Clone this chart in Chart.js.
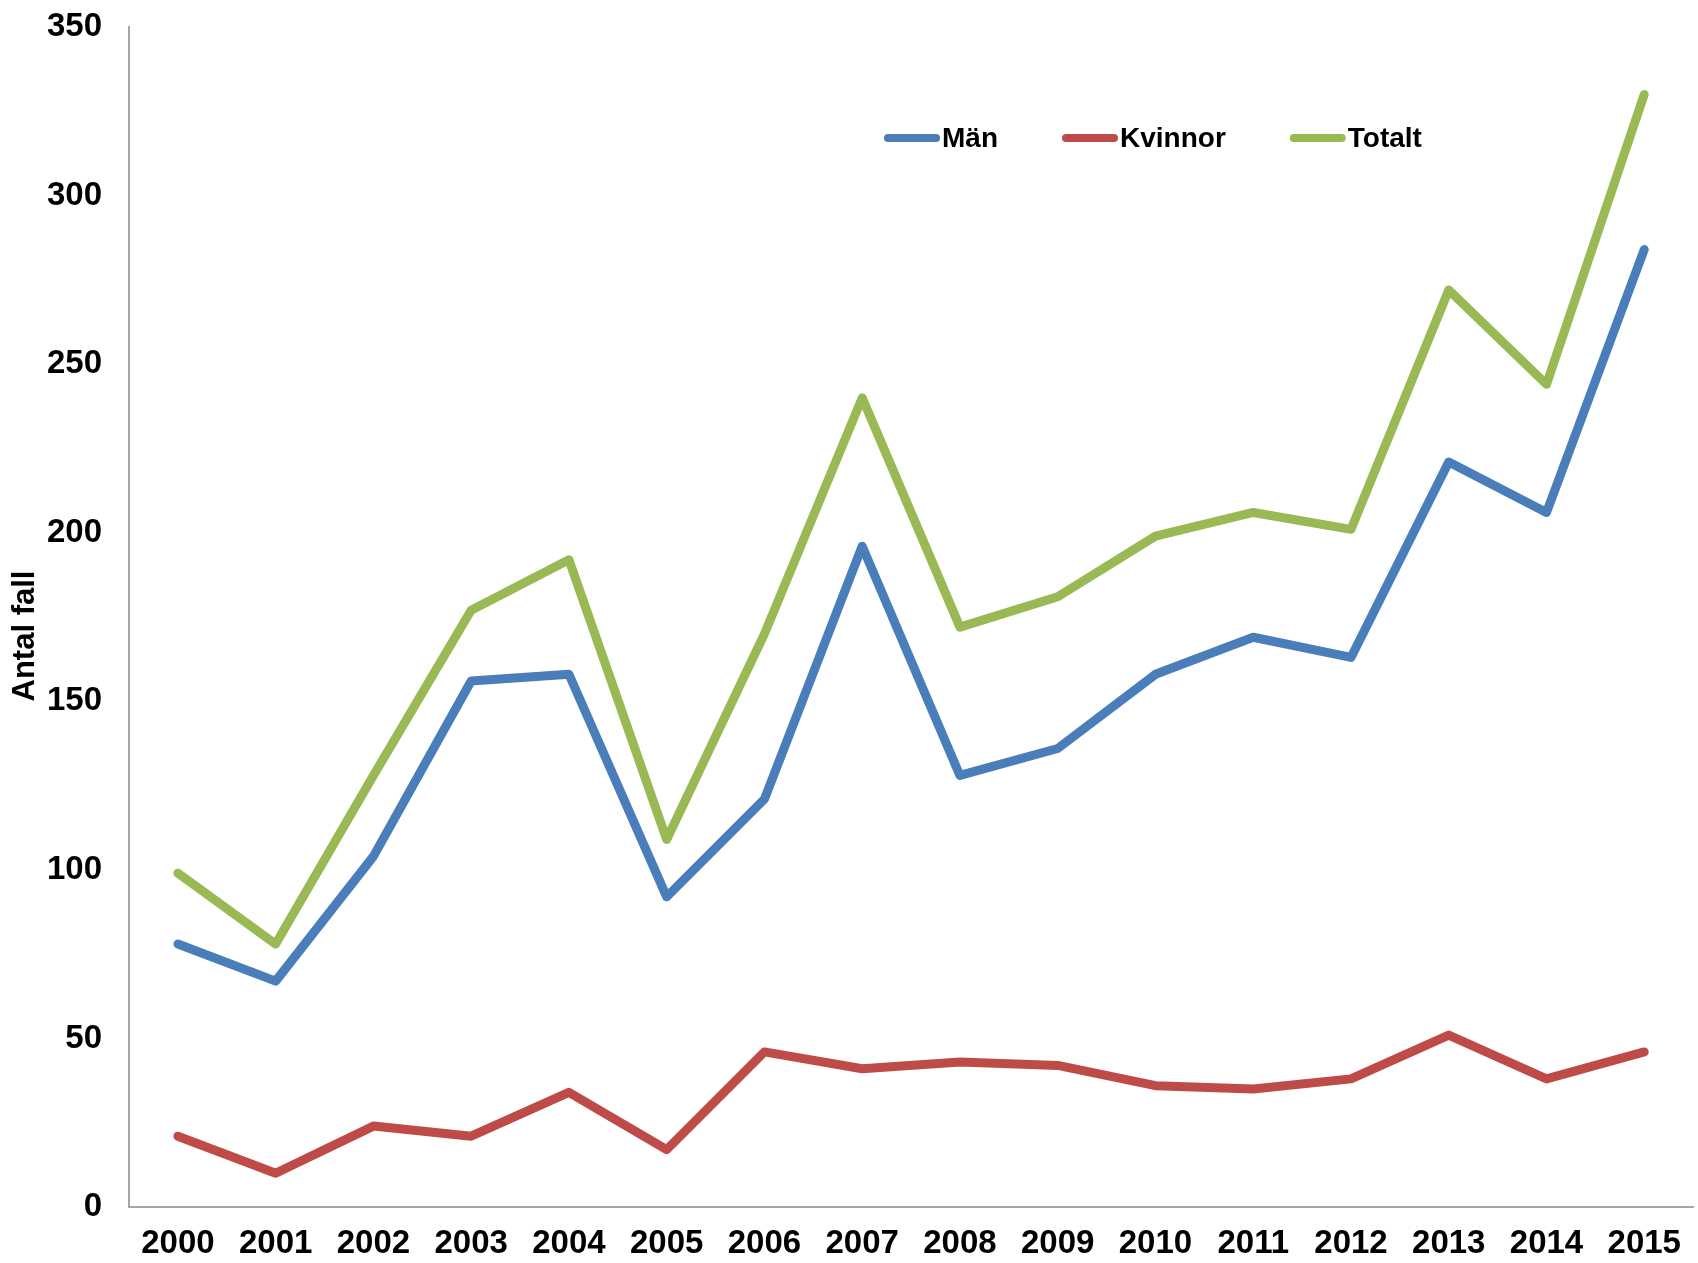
<!DOCTYPE html>
<html>
<head>
<meta charset="utf-8">
<script src="https://cdn.jsdelivr.net/npm/chart.js@4/dist/chart.umd.min.js"></script>
<style>
  html, body { margin: 0; padding: 0; background: #fff; }
  canvas { display: block; }
</style>
</head>
<body>
<canvas id="chart" width="1698" height="1263"></canvas>
<script>
const years = ["2000", "2001", "2002", "2003", "2004", "2005", "2006", "2007",
               "2008", "2009", "2010", "2011", "2012", "2013", "2014", "2015"];
const man     = [78, 67, 104, 156, 158, 92, 121, 196, 128, 136, 158, 169, 163, 221, 206, 284];
const kvinnor = [21, 10, 24, 21, 34, 17, 46, 41, 43, 42, 36, 35, 38, 51, 38, 46];
const totalt  = [99, 78, 128, 177, 192, 109, 170, 240, 172, 181, 199, 206, 201, 272, 244, 330];
const yMin = 0, yMax = 350, yStep = 50;
const yTitle = "Antal fall";

const tickFont = { family: "'Liberation Sans Narrow', 'Liberation Sans', Arial, sans-serif", size: 33, weight: "bold" };
const labelFont = "bold 28px 'Liberation Sans', Arial, sans-serif";
const axisColor = "#A6A6A6";

// legend drawn as a single row inside the plot, near the top
const inlineLegend = {
  id: "inlineLegend",
  afterDraw(chart) {
    const ctx = chart.ctx;
    const y = 138;
    let x = 884;
    ctx.save();
    ctx.font = labelFont;
    ctx.textBaseline = "middle";
    ctx.textAlign = "left";
    chart.data.datasets.forEach(ds => {
      ctx.strokeStyle = ds.borderColor;
      ctx.lineWidth = 8;
      ctx.lineCap = "round";
      ctx.beginPath();
      ctx.moveTo(x + 4, y);
      ctx.lineTo(x + 52, y);
      ctx.stroke();
      ctx.fillStyle = "#000";
      ctx.fillText(ds.label, x + 58, y + 1);
      x += 58 + ctx.measureText(ds.label).width + 64;
    });
    ctx.restore();
  }
};

// rotated y axis title
const yAxisTitle = {
  id: "yAxisTitle",
  afterDraw(chart) {
    const ctx = chart.ctx;
    ctx.save();
    ctx.translate(25, 636);
    ctx.rotate(-Math.PI / 2);
    ctx.font = "bold 31px 'Liberation Sans', Arial, sans-serif";
    ctx.fillStyle = "#000";
    ctx.textAlign = "center";
    ctx.textBaseline = "middle";
    ctx.fillText(yTitle, 0, 0);
    ctx.restore();
  }
};

const series = (label, data, color) => ({
  label,
  data,
  borderColor: color,
  backgroundColor: color,
  borderWidth: 9,
  borderJoinStyle: "round",
  borderCapStyle: "round",
  pointRadius: 0,
  tension: 0,
  fill: false
});

new Chart(document.getElementById("chart"), {
  type: "line",
  data: {
    labels: years,
    datasets: [
      series("Män", man, "#4A7EBB"),
      series("Kvinnor", kvinnor, "#BE4B48"),
      series("Totalt", totalt, "#98B954")
    ]
  },
  options: {
    responsive: false,
    animation: false,
    layout: { padding: { top: 27, right: 1, left: 0, bottom: 0 } },
    plugins: {
      legend: { display: false },
      tooltip: { enabled: false }
    },
    scales: {
      x: {
        offset: true,
        grid: { display: false, drawTicks: false },
        border: { display: true, color: axisColor, width: 2 },
        ticks: { color: "#000", font: tickFont, padding: 17, maxRotation: 0, autoSkip: false },
        afterFit: scale => { scale.height = 56; }
      },
      y: {
        min: yMin,
        max: yMax,
        // hidden tick marks only keep the labels clear of the axis line
        grid: { display: false, drawTicks: true, tickLength: 27 },
        border: { display: true, color: axisColor, width: 2 },
        ticks: { stepSize: yStep, color: "#000", font: tickFont, padding: 0 },
        afterFit: scale => { scale.width = 129; }
      }
    }
  },
  plugins: [inlineLegend, yAxisTitle]
});
</script>
</body>
</html>
